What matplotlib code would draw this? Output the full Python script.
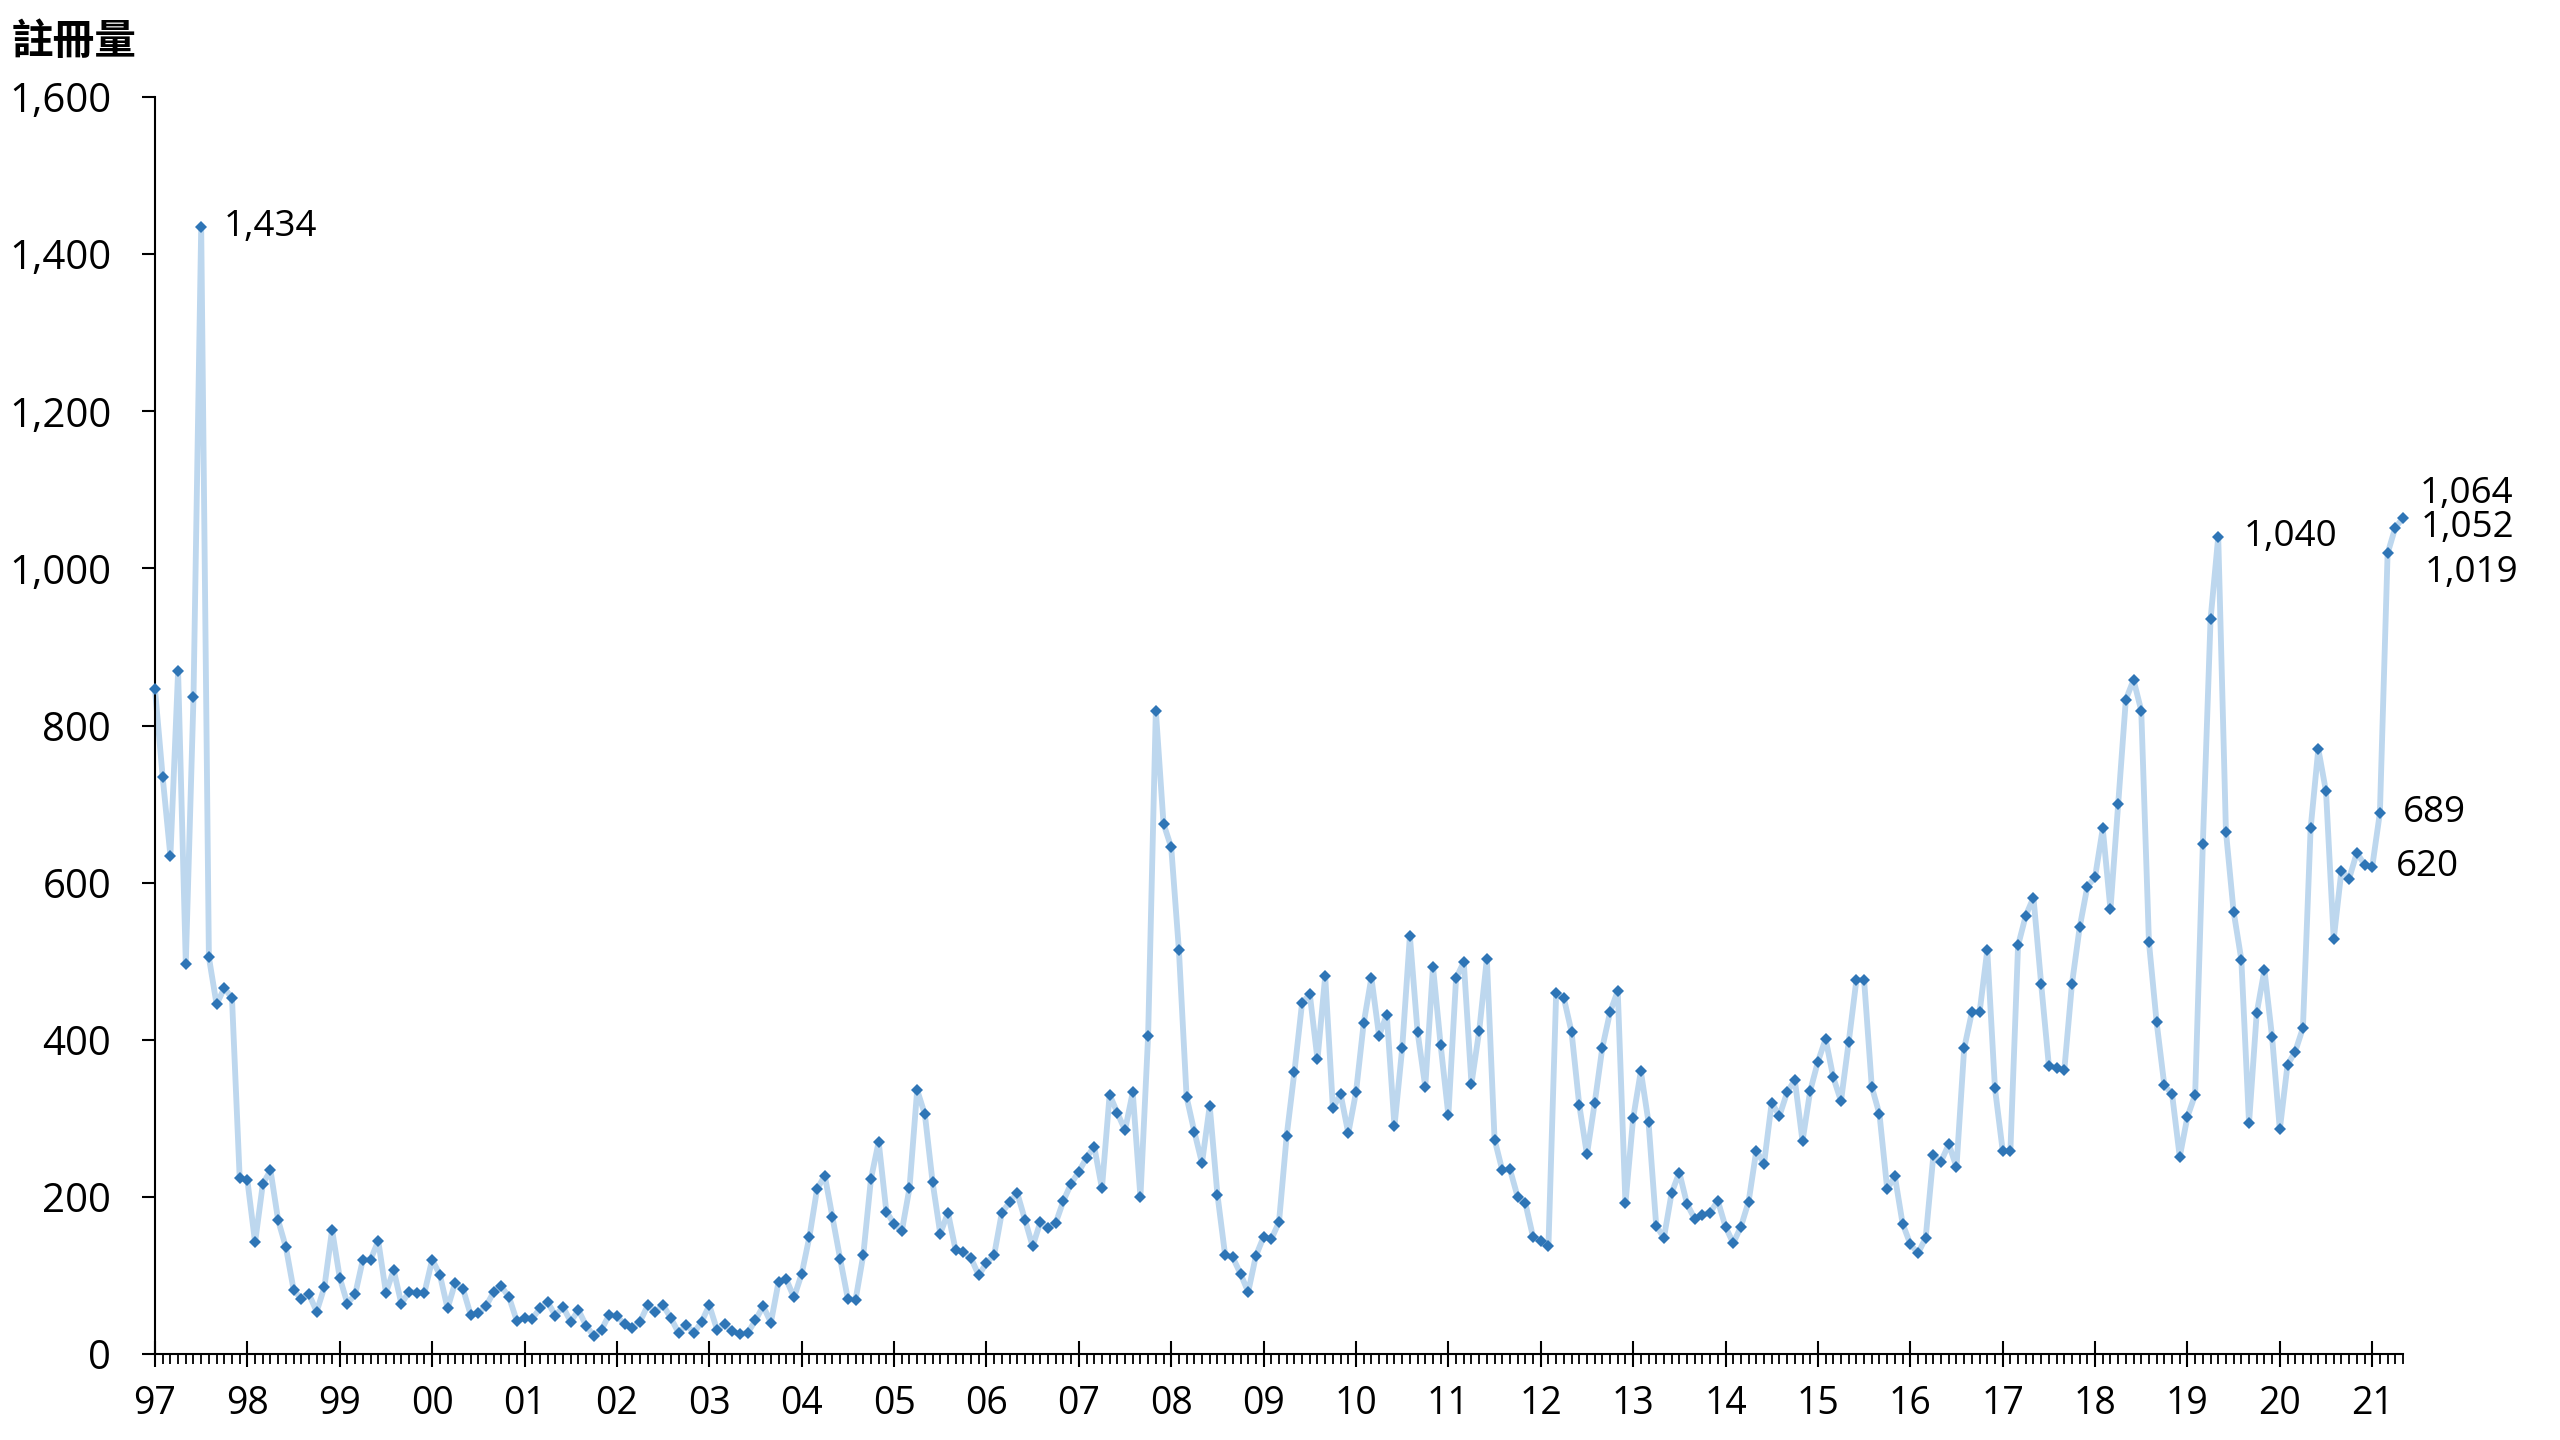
import matplotlib
matplotlib.use("Agg")
import matplotlib.pyplot as plt
import numpy as np

plt.rcParams['font.family'] = ['Open Sans', 'Noto Sans CJK TC', 'DejaVu Sans']

# monthly registrations, Jan 1997 .. May 2021
vals_97 = [846, 734, 634, 869, 497, 836, 1434, 505, 445, 466, 453, 224]
vals_98 = [221, 142, 216, 234, 170, 136, 82, 70, 76, 54, 85, 158]
vals_99 = [97, 64, 76, 120, 120, 144, 78, 107, 64, 79, 78, 78]
vals_00 = [120, 101, 58, 91, 83, 50, 52, 61, 79, 86, 72, 42]
vals_01 = [46, 45, 58, 66, 49, 60, 41, 56, 36, 23, 31, 50]
vals_02 = [48, 38, 33, 41, 62, 54, 62, 46, 27, 37, 27, 41]
vals_03 = [62, 31, 38, 29, 25, 27, 43, 61, 40, 92, 95, 72]
vals_04 = [102, 149, 210, 227, 174, 121, 70, 69, 126, 223, 270, 181]
vals_05 = [166, 156, 211, 336, 305, 219, 153, 180, 132, 130, 122, 100]
vals_06 = [116, 126, 180, 193, 205, 171, 137, 168, 161, 167, 195, 217]
vals_07 = [232, 250, 264, 211, 330, 307, 285, 333, 200, 405, 819, 675]
vals_08 = [645, 514, 327, 283, 243, 316, 203, 126, 123, 102, 79, 125]
vals_09 = [149, 146, 168, 278, 359, 447, 458, 375, 481, 313, 331, 281]
vals_10 = [333, 421, 479, 405, 432, 290, 389, 532, 410, 340, 493, 393]
vals_11 = [304, 478, 499, 344, 411, 503, 273, 234, 235, 200, 192, 149]
vals_12 = [144, 138, 459, 453, 410, 317, 254, 319, 390, 435, 462, 192]
vals_13 = [300, 360, 295, 163, 148, 205, 231, 191, 172, 177, 180, 195]
vals_14 = [162, 141, 162, 194, 259, 242, 320, 303, 333, 349, 271, 335]
vals_15 = [372, 401, 352, 322, 397, 476, 476, 340, 305, 210, 226, 166]
vals_16 = [140, 128, 148, 253, 245, 267, 238, 389, 435, 435, 514, 338]
vals_17 = [259, 258, 520, 558, 581, 471, 367, 364, 361, 471, 543, 595]
vals_18 = [607, 669, 566, 700, 833, 858, 819, 524, 422, 342, 331, 251]
vals_19 = [302, 330, 649, 935, 1040, 665, 563, 502, 294, 434, 489, 403]
vals_20 = [286, 368, 385, 415, 669, 770, 716, 528, 615, 605, 638, 623]
vals_21 = [620, 689, 1019, 1052, 1064]

valores = np.array(vals_97 + vals_98 + vals_99 + vals_00 + vals_01 + vals_02 +
                   vals_03 + vals_04 + vals_05 + vals_06 + vals_07 + vals_08 +
                   vals_09 + vals_10 + vals_11 + vals_12 + vals_13 + vals_14 +
                   vals_15 + vals_16 + vals_17 + vals_18 + vals_19 + vals_20 +
                   vals_21)
meses = np.arange(len(valores))

etiquetas_anio = ['97', '98', '99', '00', '01', '02', '03', '04', '05', '06',
                  '07', '08', '09', '10', '11', '12', '13', '14', '15', '16',
                  '17', '18', '19', '20', '21']

# points labelled with their value: (index, dx px, dy px)
anotados = [(6, 23, 0), (268, 25, 0), (292, 17, 24), (291, 25, 0),
            (290, 37, -20), (289, 23, 0), (288, 24, 0)]

fig = plt.figure(figsize=(25.6, 14.4), dpi=100)
ax = fig.add_axes([155/2560, 1-1354/1440, (2403-155)/2560, (1354-97)/1440])

ax.plot(meses, valores, color='#BDD7EE', linewidth=4.2, zorder=2,
        clip_on=False)
ax.plot(meses, valores, linestyle='none', marker='D', markersize=6.5,
        color='#2E75B6', markeredgewidth=0, zorder=3, clip_on=False)

ax.set_xlim(0, len(valores) - 1)
ax.set_ylim(0, 1600)

ax.set_xticks(np.arange(0, len(valores), 12))
ax.set_xticklabels(etiquetas_anio)
ax.set_xticks(meses, minor=True)
ax.set_yticks(np.arange(0, 1601, 200))
ax.set_yticklabels(['{:,}'.format(v) for v in range(0, 1601, 200)])

ax.tick_params(axis='x', which='major', direction='inout', length=19,
               width=1.5, labelsize=27, pad=13)
ax.tick_params(axis='x', which='minor', direction='out', length=7.5,
               width=1.3)
ax.tick_params(axis='y', direction='out', length=9.5, width=1.5,
               labelsize=29, pad=22)

for lado in ['top', 'right']:
    ax.spines[lado].set_visible(False)
for lado in ['left', 'bottom']:
    ax.spines[lado].set_linewidth(1.5)
    ax.spines[lado].set_color('black')

for i, dx, dy in anotados:
    ax.annotate('{:,}'.format(valores[i]), (meses[i], valores[i]),
                xytext=(dx * 0.72, dy * 0.72), textcoords='offset points',
                ha='left', va='center', fontsize=26.5)

fig.text(12/2560, 1-42/1440, '註冊量', fontsize=30, fontweight='bold',
         family=['Noto Sans CJK TC', 'DejaVu Sans'], ha='left', va='center')

plt.savefig('out.png', dpi=100)
